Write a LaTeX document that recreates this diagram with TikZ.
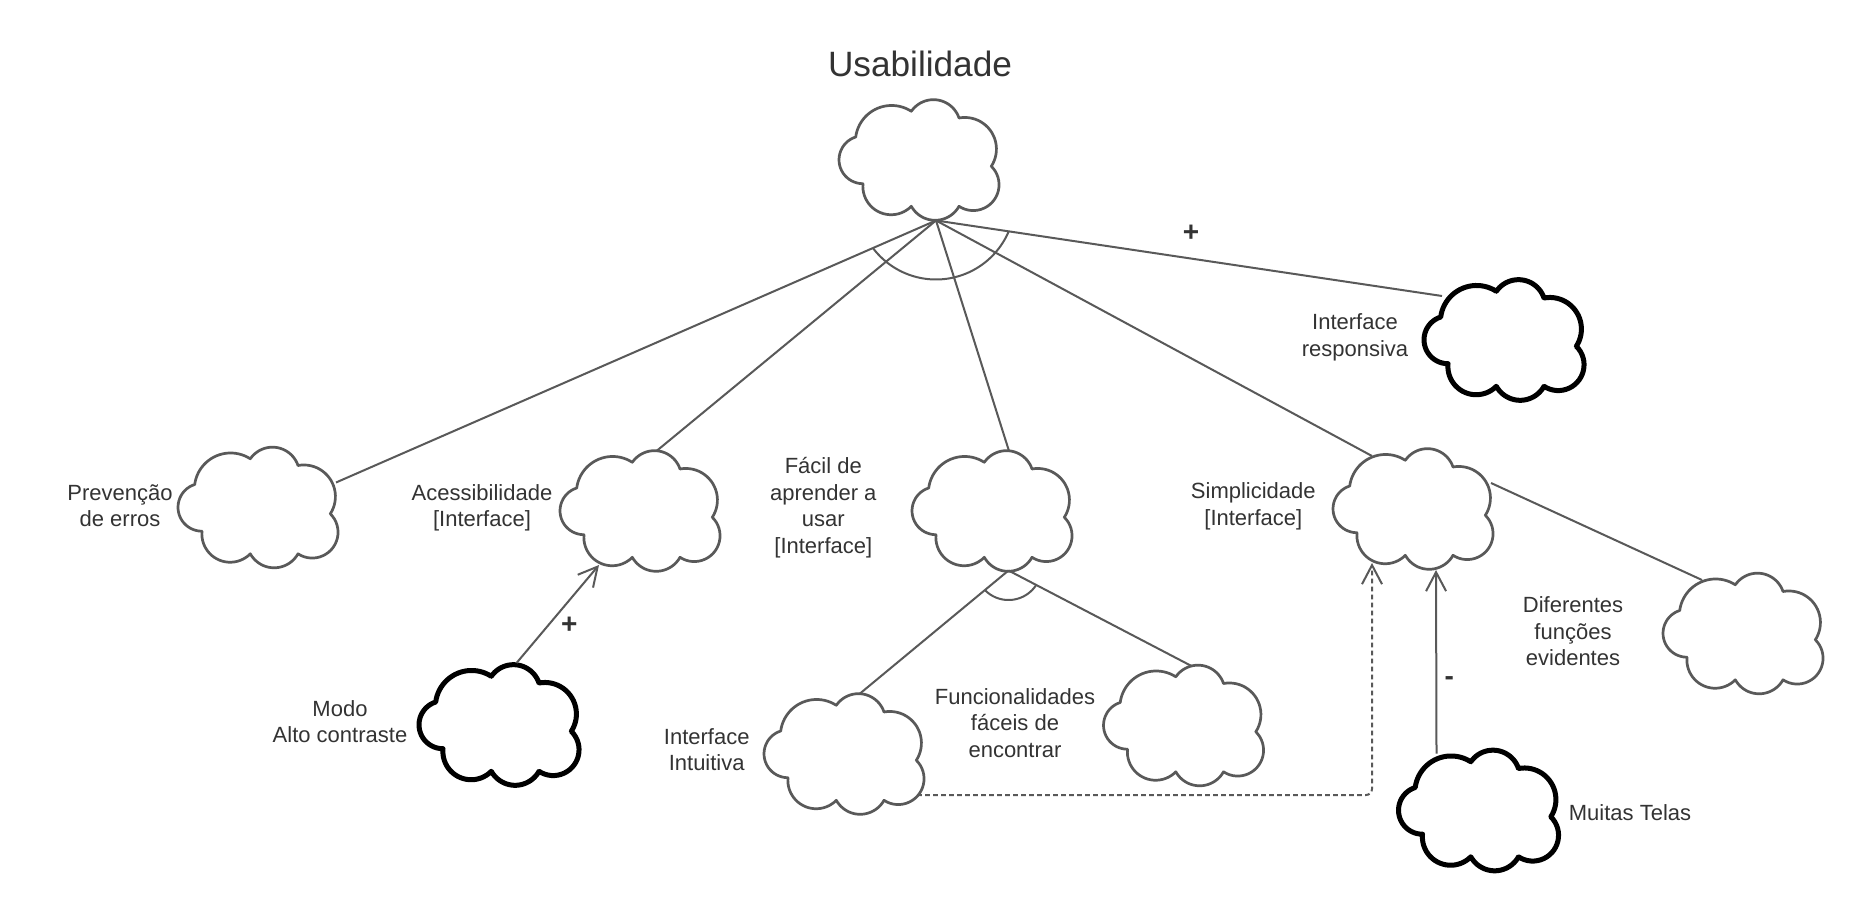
\documentclass[tikz,border=0pt]{standalone}
\usepackage{fontspec}
\setmainfont{Liberation Sans}
\usetikzlibrary{arrows.meta}
\definecolor{lc}{HTML}{595959}
\definecolor{tc}{HTML}{333333}
\tikzset{
  cloudbox/.style={rectangle, draw=none, inner sep=0pt, minimum width=80pt, minimum height=60.5pt},
  lobe/.style={samples=24, variable=\t},
  cloudshape/.pic={
    \node[cloudbox] (-c) at (0,0) {};
    \draw[pic actions, line join=round]
      plot[lobe, domain=187.4:303]   ({-27.4+36.21*cos(\t)},{-18.32+36.21*sin(\t)})
      -- plot[lobe, domain=214.6:341.3] ({14.47+26.95*cos(\t)},{-33.38+26.95*sin(\t)})
      -- plot[lobe, domain=259.4:393.1] ({45.82+31.6*cos(\t)},{-10.94+31.6*sin(\t)})
      -- plot[lobe, domain=-45.6:123.4] ({54.22+25.83*cos(\t)},{24.74+25.83*sin(\t)})
      -- plot[lobe, domain=29.2:150.8]  ({16.15+27.31*cos(\t)},{32.99+27.31*sin(\t)})
      -- plot[lobe, domain=44.6:185.6]  ({-27.85+28.29*cos(\t)},{26.45+28.29*sin(\t)})
      -- plot[lobe, domain=89.8:252.4]  ({-56.09+23.91*cos(\t)},{-0.206+23.91*sin(\t)})
      -- cycle;
  },
  thincloud/.style={draw=lc, line width=1.35pt},
  thickcloud/.style={draw=black, line width=2.5pt},
  conn/.style={draw=lc, line width=1pt},
  arr/.style={conn, -{Straight Barb[length=9.5pt, width=10pt]}},
  dashconn/.style={arr, dash pattern=on 2.4pt off 1.6pt, rounded corners=3pt},
  lbl/.style={text=tc, font=\fontsize{11}{13.25}\selectfont, align=center, inner sep=0pt},
  sign/.style={text=tc, font=\fontsize{14}{16}\selectfont\bfseries, inner sep=0pt},
  title/.style={text=tc, font=\fontsize{17.6}{21}\selectfont, inner sep=0pt},
}
\begin{document}
\begin{tikzpicture}[x=0.5pt, y=-0.5pt]
\fill[white] (0,0) rectangle (1872,914);
\useasboundingbox (0,0) rectangle (1872,914);

% clouds
\pic[thincloud]  (top)    at (919,160)     {cloudshape};
\pic[thickcloud] (resp)   at (1504,340)    {cloudshape};
\pic[thincloud]  (prev)   at (258,507.5)   {cloudshape};
\pic[thincloud]  (acess)  at (640,511)     {cloudshape};
\pic[thincloud]  (facil)  at (992,511)     {cloudshape};
\pic[thincloud]  (simp)   at (1413,509)    {cloudshape};
\pic[thincloud]  (dif)    at (1743,633.5)  {cloudshape};
\pic[thickcloud] (modo)   at (499,725)     {cloudshape};
\pic[thincloud]  (intu)   at (844,754)     {cloudshape};
\pic[thincloud]  (func)   at (1183.5,725.5){cloudshape};
\pic[thickcloud] (muitas) at (1478.5,810.5){cloudshape};

% labels
\node[title] (t-top) at (920,64) {Usabilidade};
\node[lbl] (t-prev)  at (120,505.5)  {Prevenção\\de erros};
\node[lbl] (t-acess) at (482,508)    {Acessibilidade\\{[Interface]}};
\node[lbl] (t-facil) at (823.3,507.5){Fácil de\\aprender a\\usar\\{[Interface]}};
\node[lbl] (t-simp)  at (1253.3,506.5){Simplicidade\\{[Interface]}};
\node[lbl] (t-resp)  at (1355,337.5) {Interface\\responsiva};
\node[lbl] (t-dif)   at (1573,631.5) {Diferentes\\funções\\evidentes};
\node[lbl] (t-modo)  at (340,721.5)  {Modo\\Alto contraste};
\node[lbl] (t-intu)  at (706.7,749.5){Interface\\Intuitiva};
\node[lbl] (t-func)  at (1015,723)   {Funcionalidades\\fáceis de\\encontrar};
\node[lbl] (t-muit)  at (1630,813)   {Muitas Telas};
\node[sign] (s-resp) at (1191,233.3) {+};
\node[sign] (s-modo) at (569.3,625)  {+};
\node[sign] (s-muit) at (1449.3,680.7) {-};

% attachment points
\coordinate (topB)   at ([shift={(17,60.5)}]top-c.center);
\coordinate (facilB) at ([shift={(16.5,59.5)}]facil-c.center);

% connectors
\draw[conn] (topB) -- ([shift={(78,-25)}]prev-c.center);
\draw[conn] (topB) -- ([shift={(16.5,-60)}]acess-c.center);
\draw[conn] (topB) -- ([shift={(17,-60)}]facil-c.center);
\draw[conn] (topB) -- ([shift={(-41,-53)}]simp-c.center);
\draw[conn] (topB) -- ([shift={(-62,-44)}]resp-c.center);
\draw[conn] ([shift={(78,-26)}]simp-c.center) -- ([shift={(-41,-53.5)}]dif-c.center);
\draw[arr] ([shift={(17.5,-62)}]modo-c.center) -- ([shift={(-41,54)}]acess-c.center);
\draw[conn] (facilB) -- ([shift={(16,-60.5)}]intu-c.center);
\draw[conn] (facilB) -- ([shift={(8,-59.5)}]func-c.center);
\draw[dashconn] ([shift={(73,41)}]intu-c.center) -| ([shift={(-41,54)}]simp-c.center);
\draw[arr] ([shift={(-42,-57)}]muitas-c.center) -- ([shift={(23,61)}]simp-c.center);

% AND arcs
\draw[conn] plot[domain=23:143, samples=60, variable=\t] ({936+79*cos(\t)},{200.5+79*sin(\t)});
\draw[conn] plot[domain=33:135.7, samples=40, variable=\t] ({1008.5+33*cos(\t)},{567+33*sin(\t)});
\end{tikzpicture}
\end{document}
